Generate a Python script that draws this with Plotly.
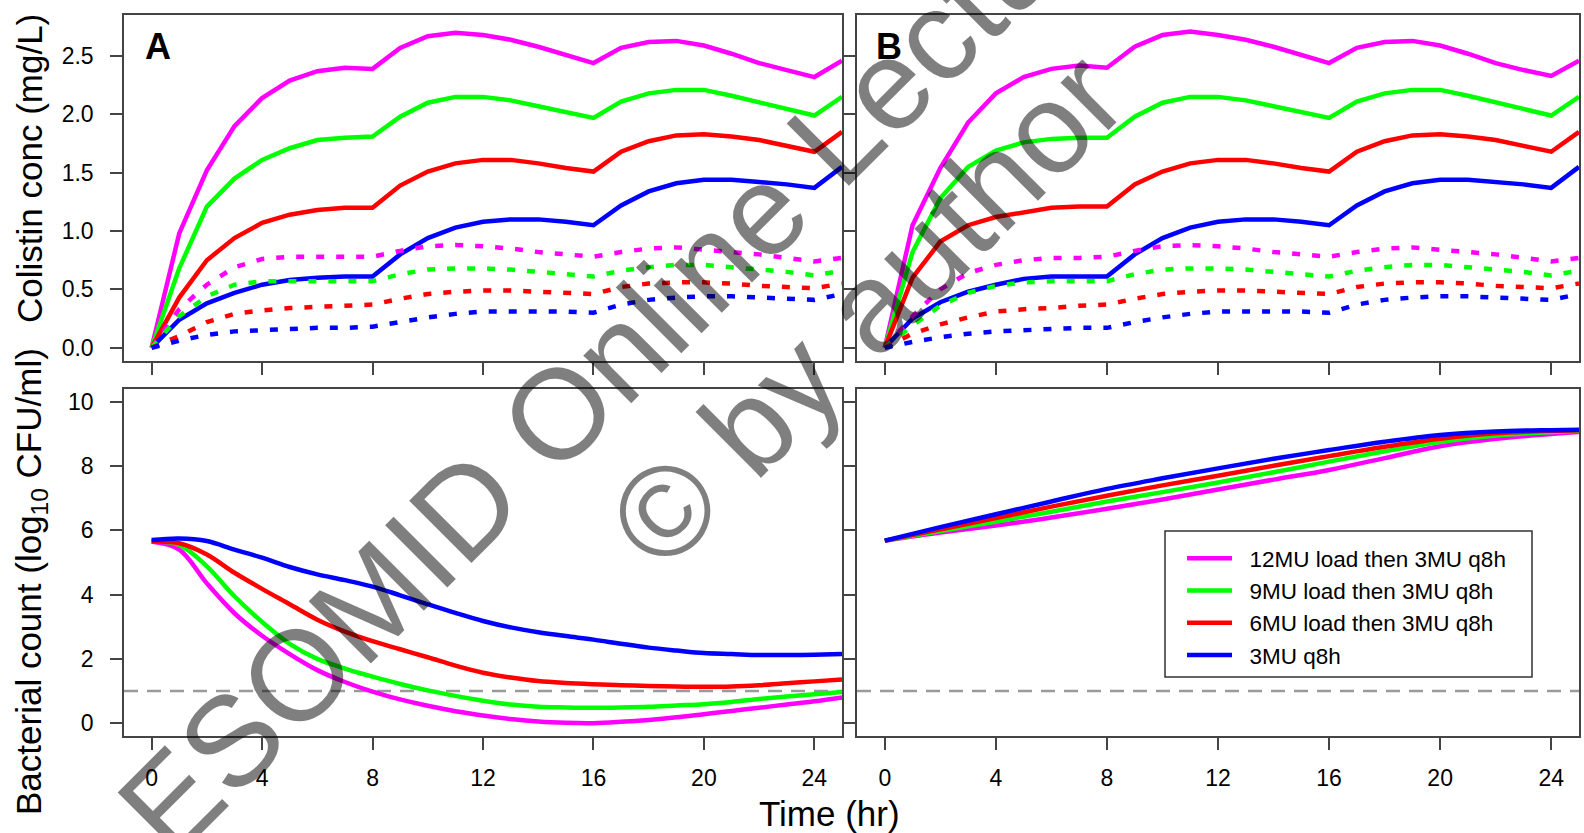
import plotly.graph_objects as go
from plotly.subplots import make_subplots

FONT = "Liberation Sans, Arial, sans-serif"
W, H = 1584, 833

# ---------------- data ----------------
hours = list(range(26))                      # 0..25 h, hourly
hours_b = [0, 2, 4, 6, 8, 10, 12, 14, 16, 18, 20, 22, 24, 25]

regimens = ["12MU load then 3MU q8h", "9MU load then 3MU q8h",
            "6MU load then 3MU q8h", "3MU q8h"]
colors = ["#FF00FF", "#00FF00", "#FF0000", "#0000FF"]

# Panel A - colistin concentration (solid)
conc_a_12 = [0.0, 0.98, 1.52, 1.90, 2.14, 2.29, 2.37, 2.40, 2.39, 2.57, 2.67, 2.70, 2.68,
             2.64, 2.58, 2.51, 2.44, 2.57, 2.62, 2.63, 2.59, 2.52, 2.44, 2.38, 2.32, 2.46]
conc_a_9 = [0.0, 0.68, 1.21, 1.45, 1.61, 1.71, 1.78, 1.80, 1.81, 1.98, 2.10, 2.15, 2.15,
            2.12, 2.07, 2.02, 1.97, 2.11, 2.18, 2.21, 2.21, 2.16, 2.10, 2.05, 1.99, 2.15]
conc_a_6 = [0.0, 0.43, 0.75, 0.94, 1.07, 1.14, 1.18, 1.20, 1.20, 1.39, 1.51, 1.58, 1.61,
            1.61, 1.58, 1.54, 1.51, 1.68, 1.77, 1.82, 1.83, 1.81, 1.78, 1.73, 1.68, 1.85]
conc_a_3 = [0.0, 0.24, 0.38, 0.47, 0.54, 0.58, 0.60, 0.61, 0.61, 0.80, 0.94, 1.03, 1.08,
            1.10, 1.10, 1.08, 1.05, 1.22, 1.34, 1.41, 1.44, 1.44, 1.42, 1.40, 1.37, 1.55]
# Panel A - colistin concentration (dotted)
free_a_12 = [0.0, 0.33, 0.54, 0.69, 0.76, 0.78, 0.78, 0.78, 0.78, 0.83, 0.87, 0.88, 0.87,
             0.85, 0.82, 0.80, 0.78, 0.82, 0.85, 0.86, 0.84, 0.82, 0.80, 0.77, 0.74, 0.77]
free_a_9 = [0.0, 0.27, 0.44, 0.54, 0.57, 0.57, 0.57, 0.57, 0.57, 0.63, 0.67, 0.68, 0.68,
            0.67, 0.65, 0.63, 0.61, 0.66, 0.69, 0.71, 0.71, 0.69, 0.67, 0.65, 0.62, 0.66]
free_a_6 = [0.0, 0.10, 0.22, 0.29, 0.32, 0.34, 0.35, 0.36, 0.37, 0.42, 0.46, 0.48, 0.49,
            0.49, 0.48, 0.47, 0.46, 0.52, 0.55, 0.56, 0.56, 0.55, 0.53, 0.52, 0.51, 0.55]
free_a_3 = [0.0, 0.06, 0.11, 0.14, 0.15, 0.16, 0.17, 0.17, 0.18, 0.22, 0.26, 0.29, 0.31,
            0.31, 0.31, 0.31, 0.30, 0.37, 0.41, 0.43, 0.44, 0.44, 0.43, 0.42, 0.41, 0.46]

# Panel B - colistin concentration (solid)
conc_b_12 = [0.0, 1.05, 1.54, 1.93, 2.18, 2.32, 2.39, 2.42, 2.40, 2.58, 2.68, 2.71, 2.68,
             2.64, 2.58, 2.51, 2.44, 2.57, 2.62, 2.63, 2.59, 2.52, 2.44, 2.38, 2.33, 2.46]
conc_b_9 = [0.0, 0.82, 1.28, 1.55, 1.69, 1.76, 1.79, 1.80, 1.80, 1.98, 2.10, 2.15, 2.15,
            2.12, 2.07, 2.02, 1.97, 2.11, 2.18, 2.21, 2.21, 2.16, 2.10, 2.05, 1.99, 2.15]
conc_b_6 = [0.0, 0.60, 0.91, 1.05, 1.12, 1.16, 1.20, 1.21, 1.21, 1.40, 1.51, 1.58, 1.61,
            1.61, 1.58, 1.54, 1.51, 1.68, 1.77, 1.82, 1.83, 1.81, 1.78, 1.73, 1.68, 1.85]
conc_b_3 = [0.0, 0.25, 0.39, 0.48, 0.54, 0.59, 0.61, 0.61, 0.61, 0.80, 0.94, 1.03, 1.08,
            1.10, 1.10, 1.08, 1.05, 1.22, 1.34, 1.41, 1.44, 1.44, 1.42, 1.40, 1.37, 1.55]
# Panel B - colistin concentration (dotted)
free_b_12 = [0.0, 0.27, 0.50, 0.64, 0.71, 0.75, 0.77, 0.77, 0.78, 0.83, 0.87, 0.88, 0.87,
             0.85, 0.82, 0.80, 0.78, 0.82, 0.85, 0.86, 0.84, 0.82, 0.80, 0.77, 0.74, 0.77]
free_b_9 = [0.0, 0.19, 0.36, 0.47, 0.53, 0.56, 0.57, 0.57, 0.57, 0.63, 0.67, 0.68, 0.68,
            0.67, 0.65, 0.63, 0.61, 0.66, 0.69, 0.71, 0.71, 0.69, 0.67, 0.65, 0.62, 0.66]
free_b_6 = [0.0, 0.12, 0.20, 0.26, 0.31, 0.33, 0.34, 0.36, 0.37, 0.42, 0.46, 0.48, 0.49,
            0.49, 0.48, 0.47, 0.46, 0.52, 0.55, 0.56, 0.56, 0.55, 0.53, 0.52, 0.51, 0.55]
free_b_3 = [0.0, 0.05, 0.09, 0.12, 0.14, 0.15, 0.16, 0.17, 0.17, 0.22, 0.26, 0.29, 0.31,
            0.31, 0.31, 0.31, 0.30, 0.37, 0.41, 0.43, 0.44, 0.44, 0.43, 0.42, 0.41, 0.46]

# Panel A - bacterial count (log10 CFU/ml)
cfu_a_12 = [5.65, 5.40, 4.35, 3.42, 2.72, 2.15, 1.65, 1.28, 0.98, 0.74, 0.54, 0.37, 0.24,
            0.13, 0.05, 0.01, 0.0, 0.04, 0.10, 0.18, 0.28, 0.38, 0.48, 0.58, 0.68, 0.80]
cfu_a_9 = [5.65, 5.55, 4.88, 3.95, 3.15, 2.47, 2.00, 1.70, 1.45, 1.22, 1.02, 0.85, 0.70,
           0.58, 0.51, 0.49, 0.48, 0.49, 0.51, 0.55, 0.59, 0.66, 0.75, 0.83, 0.90, 0.97]
cfu_a_6 = [5.65, 5.60, 5.25, 4.68, 4.18, 3.70, 3.22, 2.85, 2.55, 2.30, 2.05, 1.79, 1.57,
           1.42, 1.31, 1.25, 1.21, 1.18, 1.16, 1.14, 1.13, 1.14, 1.18, 1.24, 1.30, 1.36]
cfu_a_3 = [5.70, 5.75, 5.67, 5.40, 5.15, 4.86, 4.63, 4.45, 4.25, 3.98, 3.70, 3.43, 3.18,
           2.98, 2.83, 2.71, 2.60, 2.47, 2.35, 2.26, 2.18, 2.15, 2.12, 2.12, 2.13, 2.15]

# Panel B - bacterial count (log10 CFU/ml)
cfu_b_12 = [5.68, 5.93, 6.15, 6.40, 6.67, 6.96, 7.27, 7.58, 7.88, 8.25, 8.62, 8.85, 9.00, 9.06]
cfu_b_9 = [5.68, 5.98, 6.27, 6.58, 6.90, 7.19, 7.49, 7.81, 8.14, 8.46, 8.75, 8.95, 9.06, 9.10]
cfu_b_6 = [5.68, 6.03, 6.38, 6.74, 7.08, 7.40, 7.70, 8.01, 8.31, 8.60, 8.85, 9.02, 9.10, 9.12]
cfu_b_3 = [5.68, 6.10, 6.50, 6.90, 7.29, 7.62, 7.93, 8.23, 8.50, 8.76, 8.97, 9.08, 9.12, 9.13]

loq = 1.0   # dashed reference line (log10 CFU/ml)

time_ticks = [0, 4, 8, 12, 16, 20, 24]
conc_ticks = [0.0, 0.5, 1.0, 1.5, 2.0, 2.5]
cfu_ticks = [0, 2, 4, 6, 8, 10]

# ---------------- figure ----------------
fig = make_subplots(rows=2, cols=2)

LW = 4.5
DOT = "8px,12px"

conc_a = [conc_a_12, conc_a_9, conc_a_6, conc_a_3]
free_a = [free_a_12, free_a_9, free_a_6, free_a_3]
conc_b = [conc_b_12, conc_b_9, conc_b_6, conc_b_3]
free_b = [free_b_12, free_b_9, free_b_6, free_b_3]
cfu_a = [cfu_a_12, cfu_a_9, cfu_a_6, cfu_a_3]
cfu_b = [cfu_b_12, cfu_b_9, cfu_b_6, cfu_b_3]

for col, (sol, dot) in enumerate([(conc_a, free_a), (conc_b, free_b)], start=1):
    for i in range(4):
        fig.add_trace(go.Scatter(x=hours, y=sol[i], mode="lines", showlegend=False,
                                 line=dict(color=colors[i], width=LW)), row=1, col=col)
    for i in range(4):
        fig.add_trace(go.Scatter(x=hours, y=dot[i], mode="lines", showlegend=False,
                                 line=dict(color=colors[i], width=LW, dash=DOT)), row=1, col=col)

for i in range(4):
    fig.add_trace(go.Scatter(x=hours, y=cfu_a[i], mode="lines", showlegend=False,
                             line=dict(color=colors[i], width=LW, shape="spline")), row=2, col=1)
for i in range(4):
    fig.add_trace(go.Scatter(x=hours_b, y=cfu_b[i], mode="lines",
                             name="\u00a0\u00a0" + regimens[i],
                             line=dict(color=colors[i], width=LW, shape="spline")), row=2, col=2)

for col in (1, 2):
    fig.add_hline(y=loq, row=2, col=col, layer="below",
                  line=dict(color="#9a9a9a", width=2.5, dash="14px,9px"))

# ---------------- axes ----------------
AX = dict(showline=True, mirror=True, linecolor="#444444", linewidth=1.5,
          ticks="outside", ticklen=12, tickwidth=1.5, tickcolor="#444444",
          showgrid=False, zeroline=False,
          tickfont=dict(family=FONT, size=23, color="black"))

xA = [124 / W, 842 / W]
xB = [857 / W, 1579 / W]
yT = [1 - 361 / H, 1 - 15 / H]
yBt = [1 - 736 / H, 1 - 389 / H]

fig.update_layout(
    xaxis=dict(AX, domain=xA, range=[-1, 25], tickvals=time_ticks, showticklabels=False),
    xaxis2=dict(AX, domain=xB, range=[-1, 25], tickvals=time_ticks, showticklabels=False),
    xaxis3=dict(AX, domain=xA, range=[-1, 25], tickvals=time_ticks, ticklabelstandoff=9),
    xaxis4=dict(AX, domain=xB, range=[-1, 25], tickvals=time_ticks, ticklabelstandoff=9),
    yaxis=dict(AX, domain=yT, range=[-0.114, 2.852], tickvals=conc_ticks,
               tickformat=".1f", ticklabelstandoff=12),
    yaxis2=dict(AX, domain=yT, range=[-0.114, 2.852], tickvals=conc_ticks, showticklabels=False),
    yaxis3=dict(AX, domain=yBt, range=[-0.4, 10.4], tickvals=cfu_ticks, ticklabelstandoff=12),
    yaxis4=dict(AX, domain=yBt, range=[-0.4, 10.4], tickvals=cfu_ticks, showticklabels=False),
)

# legend box
fig.add_shape(type="rect", xref="paper", yref="paper",
              x0=1165 / W, x1=1532 / W, y0=1 - 677 / H, y1=1 - 531 / H,
              line=dict(color="#333333", width=1.5), fillcolor="white", layer="below")

fig.update_layout(
    width=W, height=H,
    margin=dict(l=0, r=0, t=0, b=0),
    paper_bgcolor="white", plot_bgcolor="white",
    font=dict(family=FONT, color="black"),
    legend=dict(x=1182 / W, y=1 - 537 / H, xanchor="left", yanchor="top",
                bgcolor="rgba(0,0,0,0)", borderwidth=0,
                font=dict(family=FONT, size=22.5, color="black"),
                itemwidth=45, tracegroupgap=0),
)

ann = []
ann.append(dict(text="Colistin conc (mg/L)", x=30 / W, y=1 - 169 / H, textangle=-90,
                font=dict(size=35)))
ann.append(dict(text="Bacterial count (log<sub>10</sub> CFU/ml)", x=31 / W, y=1 - 582 / H,
                textangle=-90, font=dict(size=35)))
ann.append(dict(text="Time (hr)", x=829 / W, y=1 - 813 / H, font=dict(size=35)))
ann.append(dict(text="<b>A</b>", x=158 / W, y=1 - 47 / H, font=dict(size=36)))
ann.append(dict(text="<b>B</b>", x=889 / W, y=1 - 47 / H, font=dict(size=36)))
# watermark
ann.append(dict(text="ESOMID Online Lecture Library", x=777 / W, y=1 - 194 / H, textangle=-45,
                font=dict(size=128, color="rgba(0,0,0,0.5)")))
ann.append(dict(text="© by author", x=866 / W, y=1 - 309 / H, textangle=-45,
                font=dict(size=128, color="rgba(0,0,0,0.5)")))
for a in ann:
    a.update(xref="paper", yref="paper", showarrow=False, xanchor="center", yanchor="middle")
    a["font"] = dict(dict(family=FONT, color="black"), **a["font"])
fig.update_layout(annotations=ann)

fig.write_html("out.html")
